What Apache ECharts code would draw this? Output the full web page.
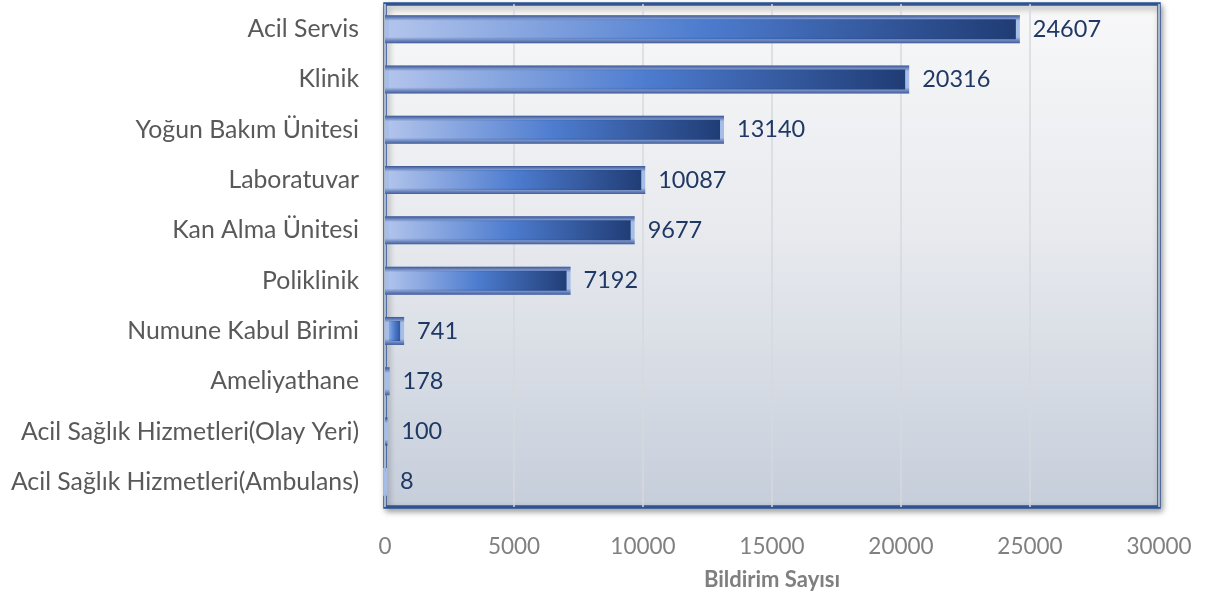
<!DOCTYPE html>
<html><head><meta charset="utf-8">
<script src="https://cdn.jsdelivr.net/npm/echarts@6/dist/echarts.min.js"></script>
<style>html,body{margin:0;padding:0;background:#fff}#c{width:1205px;height:598px}</style>
</head><body><div id="c"></div>
<script>
const categories = ["Acil Servis","Klinik","Yoğun Bakım Ünitesi","Laboratuvar","Kan Alma Ünitesi","Poliklinik","Numune Kabul Birimi","Ameliyathane","Acil Sağlık Hizmetleri(Olay Yeri)","Acil Sağlık Hizmetleri(Ambulans)"];
const values = [24607,20316,13140,10087,9677,7192,741,178,100,8];
const xTicks = [0,5000,10000,15000,20000,25000,30000];
const axisName = "Bildirim Sayısı";

const FONT = "Lato, sans-serif";
const chart = echarts.init(document.getElementById('c'), null, {renderer:'canvas'});
chart.setOption({
  animation:false,
  grid:{left:385,right:46,top:4,bottom:91,show:true,containLabel:false,outerBoundsMode:'none',
    backgroundColor:{type:'linear',x:0,y:0,x2:0,y2:1,colorStops:[{offset:0,color:'#f8f8f9'},{offset:0.45,color:'#e8eaee'},{offset:1,color:'#c6cedb'}]},
    borderColor:'#2c5392',borderWidth:3.5,shadowColor:'rgba(0,0,0,0.35)',shadowBlur:6,shadowOffsetX:2,shadowOffsetY:3},
  xAxis:{type:'value',min:xTicks[0],max:xTicks[xTicks.length-1],interval:xTicks[1]-xTicks[0],
    name:axisName,nameLocation:'middle',nameGap:62,
    nameTextStyle:{fontFamily:FONT,fontSize:22,fontWeight:'bold',color:'#7f7f7f'},
    axisLine:{show:false},axisTick:{show:false},
    axisLabel:{fontFamily:FONT,fontSize:22.5,color:'#808080',margin:28,formatter:function(v){return String(v);}},
    splitLine:{show:true,lineStyle:{color:'#d6d8dc',width:1.5}}},
  yAxis:{type:'category',data:categories,inverse:true,
    axisLine:{show:false},axisTick:{show:false},
    axisLabel:{fontFamily:FONT,fontSize:24.8,color:'#595959',margin:26}},
  series:[{type:'bar',data:values,barWidth:28,
    itemStyle:{color:{type:'linear',x:0,y:0,x2:1,y2:0,colorStops:[{offset:0,color:'#b3c5ec'},{offset:0.5,color:'#4d7ccf'},{offset:1,color:'#1f3b73'}]},
      borderColor:'#a6bde8',borderWidth:4},
    label:{show:true,position:'right',distance:13,fontFamily:FONT,fontSize:23.5,color:'#1f3864'}},
   {type:'bar',data:values,barWidth:28,barGap:'-100%',silent:true,
    itemStyle:{color:{type:'linear',x:0,y:0,x2:0,y2:1,colorStops:[{offset:0,color:'rgba(30,60,130,0.8)'},{offset:0.2,color:'rgba(30,60,130,0)'},{offset:0.78,color:'rgba(30,60,130,0)'},{offset:1,color:'rgba(30,60,130,0.75)'}]}}}
  ]
});
</script></body></html>
